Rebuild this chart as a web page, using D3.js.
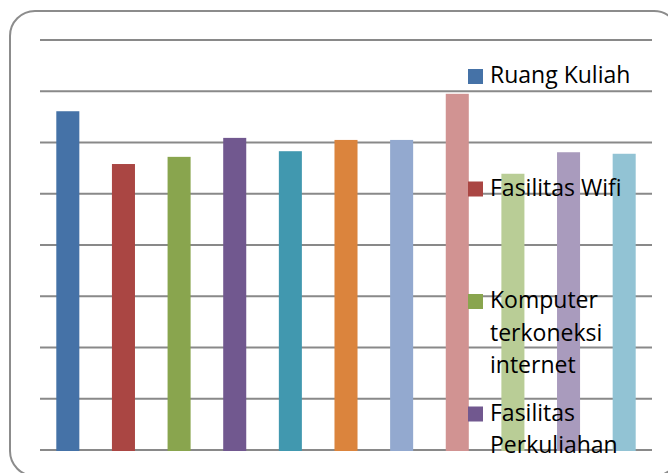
<!DOCTYPE html>
<html>
<head>
<meta charset="utf-8">
<script src="https://cdn.jsdelivr.net/npm/d3@7"></script>
<style>
  html, body { margin: 0; padding: 0; background: #fff; overflow: hidden; }
  svg { display: block; }
</style>
</head>
<body>
<svg id="chart" width="668" height="473"></svg>
<script>
// Data (gridline step = 1 unit)
const categories = ["Ruang Kuliah", "Fasilitas Wifi", "Komputer terkoneksi internet", "Fasilitas Perkuliahan",
                    "Seri 5", "Seri 6", "Seri 7", "Seri 8", "Seri 9", "Seri 10", "Seri 11"];
const values = [6.61, 5.58, 5.72, 6.09, 5.83, 6.05, 6.05, 6.95, 5.39, 5.81, 5.78];
const colors = ["#4572A7", "#AA4643", "#89A54E", "#71588F", "#4198AF", "#DB843D",
                "#93A9CF", "#D19392", "#B9CD96", "#A99BBD", "#92C3D4"];
const gridTicks = [0, 1, 2, 3, 4, 5, 6, 7, 8];
// Legend entries visible in the chart (the rest are cut off)
const legendLines = [["Ruang Kuliah"], ["Fasilitas Wifi"], ["Komputer", "terkoneksi", "internet"], ["Fasilitas", "Perkuliahan"]];

const svg = d3.select("#chart");

// outer rounded frame
svg.append("rect")
  .attr("x", 10).attr("y", 11).attr("width", 669).attr("height", 465)
  .attr("rx", 25).attr("ry", 25)
  .attr("fill", "#fff").attr("stroke", "#8c8c8c").attr("stroke-width", 2);

const x = d3.scaleBand().domain(d3.range(values.length)).range([40, 652]).paddingInner(0.586).paddingOuter(0.293);
const y = d3.scaleLinear().domain([0, 8]).range([450, 40]);

// gridlines
svg.append("g").selectAll("line").data(gridTicks).join("line")
  .attr("x1", 40).attr("x2", 652)
  .attr("y1", d => y(d)).attr("y2", d => y(d))
  .attr("stroke", "#898989").attr("stroke-width", 2);

// bars
svg.append("g").selectAll("rect").data(values).join("rect")
  .attr("x", (d, i) => x(i))
  .attr("width", x.bandwidth())
  .attr("y", d => y(d))
  .attr("height", d => y(0) - y(d) + 1)
  .attr("fill", (d, i) => colors[i]);

// legend
const legendX = 468, firstBaseline = 83, entryStep = 112.5, lineH = 32.5;
const lg = svg.append("g").attr("font-family", "'Open Sans', Lato, sans-serif").attr("font-size", 23).attr("fill", "#000");
legendLines.forEach((lines, i) => {
  const base = firstBaseline + i * entryStep;
  lg.append("rect").attr("x", legendX).attr("y", base - 14).attr("width", 15).attr("height", 15).attr("fill", colors[i]);
  const t = lg.append("text").attr("x", legendX + 22).attr("y", base);
  lines.forEach((ln, j) => {
    t.append("tspan").attr("x", legendX + 22).attr("y", base + j * lineH).text(ln);
  });
});
</script>
</body>
</html>
